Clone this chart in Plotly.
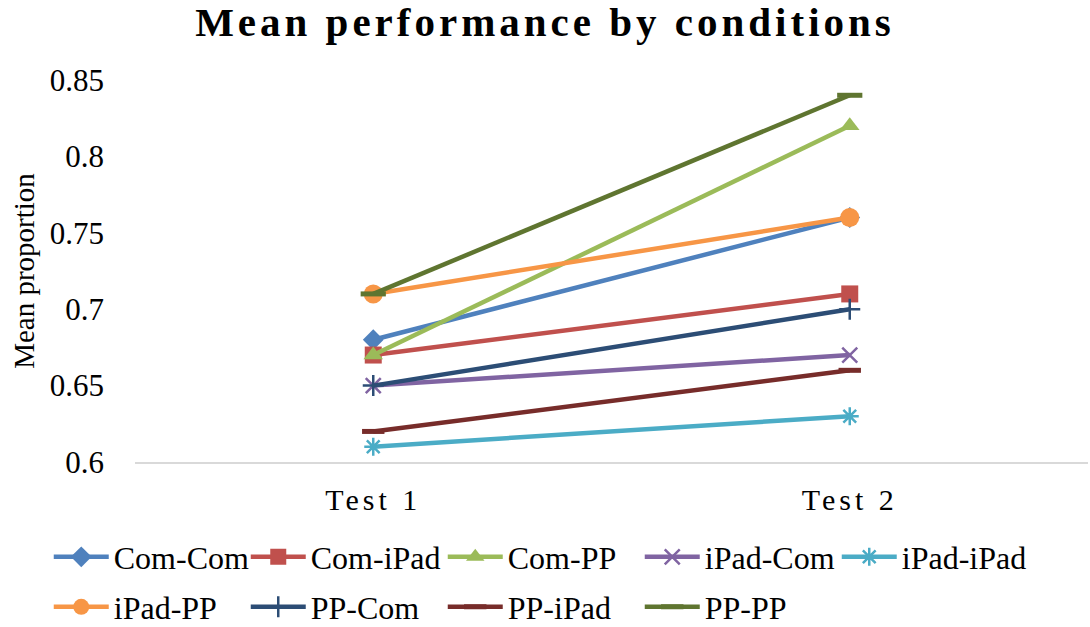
import plotly.graph_objects as go

categories = ["Test 1", "Test 2"]
series_names = ["Com-Com", "Com-iPad", "Com-PP", "iPad-Com", "iPad-iPad",
                "iPad-PP", "PP-Com", "PP-iPad", "PP-PP"]
com_com = [0.68, 0.76]
com_ipad = [0.67, 0.71]
com_pp = [0.67, 0.82]
ipad_com = [0.65, 0.67]
ipad_ipad = [0.61, 0.63]
ipad_pp = [0.71, 0.76]
pp_com = [0.65, 0.70]
pp_ipad = [0.62, 0.66]
pp_pp = [0.71, 0.84]
values = [com_com, com_ipad, com_pp, ipad_com, ipad_ipad, ipad_pp, pp_com, pp_ipad, pp_pp]

colors = ["#4F81BD", "#C0504D", "#9BBB59", "#8064A2", "#4BACC6",
          "#F79646", "#2C4D75", "#772C2A", "#5F7530"]
symbols = ["diamond", "square", "triangle-up", "x-thin", "asterisk",
           "circle", "cross-thin", "line-ew", "line-ew"]
sizes = [16, 17, 17, 15, 15, 19, 15, 16, 18]
legend_ids = ["legend"] * 5 + ["legend2"] * 4

fig = go.Figure()
for name, vals, c, s, sz, lg in zip(series_names, values, colors, symbols, sizes, legend_ids):
    thin = s in ("x-thin", "asterisk", "cross-thin", "line-ew")
    lw = 0
    if thin:
        lw = 5 if s == "line-ew" else 2.5
    fig.add_trace(go.Scatter(
        x=categories, y=vals, name=name, mode="lines+markers",
        line=dict(color=c, width=4.5),
        marker=dict(symbol=s, size=sz, color=c, line=dict(color=c, width=lw)),
        legend=lg,
    ))

leg_common = dict(orientation="h", x=-0.0905, xanchor="left", yanchor="middle",
                  font=dict(size=32, family="Liberation Serif", color="black"),
                  entrywidth=127, itemwidth=55, bgcolor="rgba(0,0,0,0)")

fig.update_layout(
    width=1090, height=627,
    paper_bgcolor="white", plot_bgcolor="white",
    margin=dict(l=135, r=2, t=80, b=165, autoexpand=False),
    title=dict(text="<b>Mean performance by conditions</b>", x=0.5, xanchor="center",
               y=0.965, yanchor="middle",
               font=dict(family="Liberation Serif", size=41, color="black")),
    font=dict(family="Liberation Serif", color="black"),
    xaxis=dict(range=[-0.5, 1.5], showgrid=False, zeroline=False,
               showline=True, linecolor="#D9D9D9", linewidth=2,
               tickfont=dict(size=30), ticks="", ticklabelstandoff=10),
    yaxis=dict(range=[0.6, 0.85], dtick=0.05, showgrid=False, zeroline=False,
               showline=False, tickfont=dict(size=31), ticks="",
               ticklabelstandoff=30,
               title=dict(text="Mean proportion", font=dict(size=29), standoff=6)),
    legend=dict(y=(462 - 557) / 382, **leg_common),
    legend2=dict(y=(462 - 607) / 382, **leg_common),
    showlegend=True,
)

post = """
document.body.style.margin = '0px';
var gd = document.getElementsByClassName('plotly-graph-div')[0];
function spacing() {
  var t = gd.querySelector('.gtitle');
  if (t) { t.style.letterSpacing = '4px'; }
  gd.querySelectorAll('.xtick text').forEach(function (e) { e.style.letterSpacing = '4px'; });
}
spacing();
gd.on('plotly_afterplot', spacing);
"""

fig.write_html("out.html", post_script=post, config={"displayModeBar": False})
